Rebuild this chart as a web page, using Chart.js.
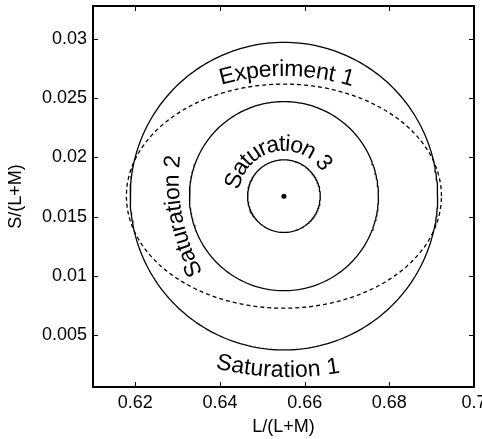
<!DOCTYPE html>
<html>
<head>
<meta charset="utf-8">
<script src="https://cdn.jsdelivr.net/npm/chart.js@4.4.1/dist/chart.umd.min.js"></script>
<style>
  html, body { margin: 0; padding: 0; background: #fff; }
</style>
</head>
<body>
<canvas id="chart" width="482" height="439"></canvas>
<script>
// curves: centre and half-widths in L/(L+M), S/(L+M) units
const curveNames = ['Saturation 1', 'Saturation 2', 'Saturation 3', 'Experiment 1'];
const centerL = [0.6551, 0.6551, 0.6551, 0.6551];
const centerS = [0.01673, 0.01673, 0.01673, 0.01673];
const radiusL = [0.03631, 0.02232, 0.00858, 0.03721];
const radiusS = [0.01300, 0.00799, 0.00307, 0.00947];

// white point in the middle
const whiteL = [0.6551];
const whiteS = [0.01673];

const xTicks = [0.62, 0.64, 0.66, 0.68, 0.70];
const xTickLabels = ['0.62', '0.64', '0.66', '0.68', '0.7'];
const yTicks = [0.005, 0.01, 0.015, 0.02, 0.025, 0.03];
const yTickLabels = ['0.005', '0.01', '0.015', '0.02', '0.025', '0.03'];

// where each name sits: angle on its curve (screen degrees), reading direction,
// distance of the text's middle line from the curve, and how much the text bends
const labelPlacement = [
    { angle: 92, dir: -1, offset: 21, bend: 300 },
    { angle: 169, dir: 1, offset: 15, bend: 200 },
    { angle: -102, dir: 1, offset: 15, bend: 51 },
    { angle: -89, dir: 1, offset: 14, bend: 235 }
];

const FONT = '"Liberation Sans", Arial, sans-serif';
const LABEL_SIZE = 23;

function ellipsePoints(i) {
    const pts = [];
    const n = 240;
    for (let k = 0; k <= n; k++) {
        const t = k / n * 2 * Math.PI;
        pts.push({ x: centerL[i] + radiusL[i] * Math.cos(t), y: centerS[i] + radiusS[i] * Math.sin(t) });
    }
    return pts;
}

function ellipsePx(chart, i) {
    const x = chart.scales.x, y = chart.scales.y;
    const cx = x.getPixelForValue(centerL[i]);
    const cy = y.getPixelForValue(centerS[i]);
    return {
        cx: cx, cy: cy,
        rx: x.getPixelForValue(centerL[i] + radiusL[i]) - cx,
        ry: cy - y.getPixelForValue(centerS[i] + radiusS[i])
    };
}

// names written along the curves, one glyph at a time
const curveText = {
    id: 'curveText',
    afterDatasetsDraw(chart) {
        const ctx = chart.ctx;
        ctx.save();
        ctx.font = LABEL_SIZE + 'px ' + FONT;
        ctx.fillStyle = '#000';
        ctx.textAlign = 'center';
        ctx.textBaseline = 'alphabetic';
        const halfX = LABEL_SIZE * 0.26;
        curveNames.forEach((name, i) => {
            const e = ellipsePx(chart, i);
            const p = labelPlacement[i];
            const t0 = p.angle * Math.PI / 180;
            const c = Math.cos(t0), s = Math.sin(t0);
            let nx = c / e.rx, ny = s / e.ry;
            const len = Math.hypot(nx, ny);
            nx /= len; ny /= len;
            // anchor on the middle line, then an arc of radius `bend` through it
            const ax = e.cx + e.rx * c + p.offset * nx;
            const ay = e.cy + e.ry * s + p.offset * ny;
            const ox = ax - p.bend * nx, oy = ay - p.bend * ny;
            const phi0 = Math.atan2(ny, nx);
            const start = -ctx.measureText(name).width / 2;
            for (let j = 0; j < name.length; j++) {
                const ch = name[j];
                const w = ctx.measureText(ch).width;
                const sMid = start + ctx.measureText(name.slice(0, j)).width + w / 2;
                const phi = phi0 + p.dir * sMid / p.bend;
                ctx.save();
                ctx.translate(ox + p.bend * Math.cos(phi), oy + p.bend * Math.sin(phi));
                ctx.rotate(Math.atan2(p.dir * Math.cos(phi), -p.dir * Math.sin(phi)));
                ctx.fillText(ch, 0, halfX);
                ctx.restore();
            }
        });
        ctx.restore();
    }
};

// box round the plot with inward ticks on all four sides
const frame = {
    id: 'frame',
    afterDraw(chart) {
        const { ctx, chartArea: a, scales } = chart;
        ctx.save();
        ctx.strokeStyle = '#000';
        ctx.lineWidth = 1;
        ctx.beginPath();
        xTicks.forEach(v => {
            const px = Math.round(scales.x.getPixelForValue(v)) + 0.5;
            ctx.moveTo(px, a.bottom); ctx.lineTo(px, a.bottom - 5);
            ctx.moveTo(px, a.top); ctx.lineTo(px, a.top + 5);
        });
        yTicks.forEach(v => {
            const py = Math.round(scales.y.getPixelForValue(v)) + 0.5;
            ctx.moveTo(a.left, py); ctx.lineTo(a.left + 5, py);
            ctx.moveTo(a.right, py); ctx.lineTo(a.right - 5, py);
        });
        ctx.stroke();
        ctx.lineWidth = 2;
        ctx.strokeRect(a.left, a.top, a.right - a.left, a.bottom - a.top);
        ctx.restore();
    }
};

const datasets = curveNames.map((name, i) => ({
    label: name,
    data: ellipsePoints(i),
    showLine: true,
    borderColor: '#000',
    borderWidth: 1.3,
    borderDash: name === 'Experiment 1' ? [4, 3] : [],
    pointRadius: 0,
    tension: 0
}));
datasets.push({
    label: 'white point',
    data: whiteL.map((v, i) => ({ x: v, y: whiteS[i] })),
    pointRadius: 2.5,
    pointBackgroundColor: '#000',
    pointBorderWidth: 0
});

new Chart(document.getElementById('chart'), {
    type: 'scatter',
    data: { datasets: datasets },
    options: {
        responsive: false,
        animation: false,
        devicePixelRatio: 1,
        layout: { padding: { top: 6, right: 8, left: 0, bottom: 0 } },
        plugins: { legend: { display: false }, tooltip: { enabled: false } },
        scales: {
            x: {
                type: 'linear',
                min: 0.61,
                max: 0.70,
                afterBuildTicks: s => { s.ticks = xTicks.map(v => ({ value: v })); },
                afterFit: s => { s.height = 52; s.paddingLeft = 0; s.paddingRight = 0; },
                grid: { display: false, drawTicks: false },
                border: { display: false },
                ticks: {
                    padding: 5,
                    maxRotation: 0,
                    color: '#000',
                    font: { family: FONT, size: 18 },
                    callback: (v, i) => xTickLabels[i]
                },
                title: {
                    display: true,
                    text: 'L/(L+M)',
                    color: '#000',
                    font: { family: FONT, size: 18 },
                    padding: { top: 0, bottom: 1 }
                }
            },
            y: {
                type: 'linear',
                min: 0.0006,
                max: 0.0328,
                afterBuildTicks: s => { s.ticks = yTicks.map(v => ({ value: v })); },
                afterFit: s => { s.width = 93; s.paddingTop = 0; s.paddingBottom = 0; },
                grid: { display: false, drawTicks: false },
                border: { display: false },
                ticks: {
                    padding: 6,
                    color: '#000',
                    font: { family: FONT, size: 18 },
                    callback: (v, i) => yTickLabels[i]
                },
                title: {
                    display: true,
                    text: 'S/(L+M)',
                    color: '#000',
                    font: { family: FONT, size: 18 },
                    padding: { top: 5, bottom: 0 }
                }
            }
        }
    },
    plugins: [curveText, frame]
});
</script>
</body>
</html>
